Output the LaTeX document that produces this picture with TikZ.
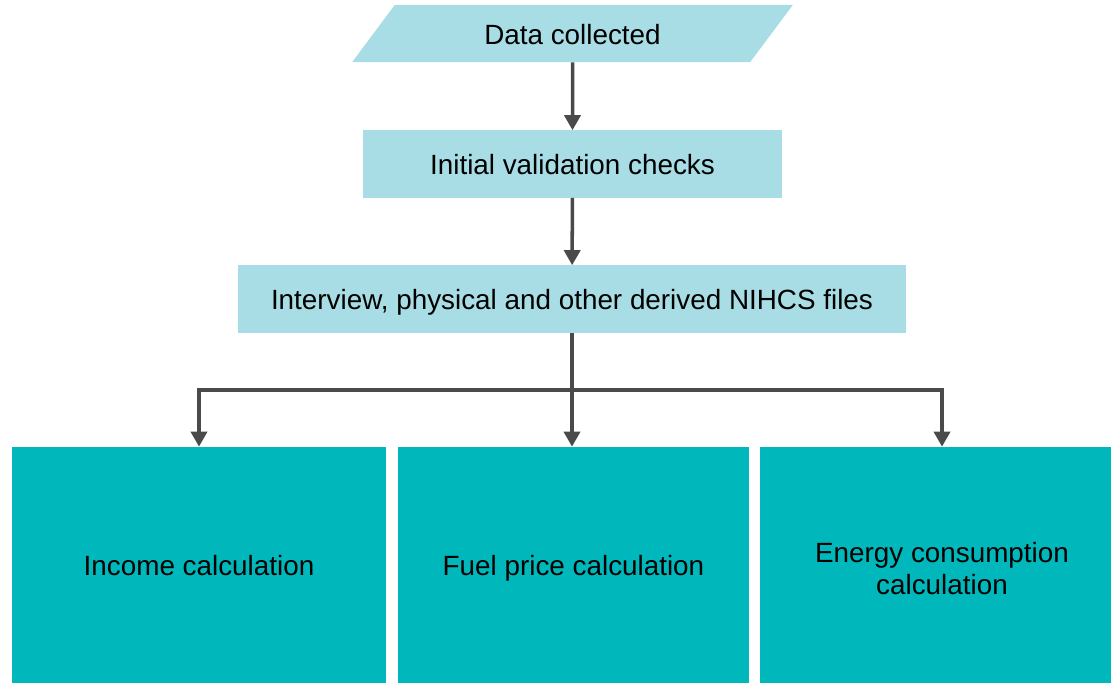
\documentclass[tikz,border=0pt]{standalone}
\usepackage{fontspec}
\setmainfont{Liberation Sans}
\usetikzlibrary{shapes.geometric,arrows.meta}
\definecolor{paleblue}{RGB}{168,221,229}
\definecolor{tealbox}{RGB}{0,184,188}
\definecolor{arrowgray}{RGB}{74,74,74}
\begin{document}
\begin{tikzpicture}[x=0.025cm, y=-0.025cm,
    every node/.style={font=\fontsize{19.8}{22.7}\selectfont, inner sep=0pt},
    oneline/.style={text height=15pt, text depth=0pt},
    inputbox/.style={oneline, trapezium, trapezium left angle=45, trapezium right angle=135,
        trapezium stretches=true, fill=paleblue, minimum width=11.025cm, minimum height=1.425cm},
    stagebox/.style={oneline, rectangle, fill=paleblue, minimum height=1.675cm},
    calcbox/.style={rectangle, fill=tealbox, minimum height=5.9cm},
    flow/.style={-{Triangle[width=0.4cm, length=0.375cm]}, draw=arrowgray, line width=2.5pt}]
    \useasboundingbox (0,0) rectangle (1111,683);
    \clip (0,0) rectangle (1111,683);

    % Input and checks
    \node[inputbox] (data) at (572.5, 33.5) {Data collected};
    \node[stagebox, minimum width=10.475cm] (checks) at (572.5, 164) {Initial validation checks};
    \node[stagebox, minimum width=16.7cm] (files) at (572, 299) {Interview, physical and other derived NIHCS files};

    % Calculations
    \node[calcbox, oneline, minimum width=9.35cm] (income) at (199, 565) {Income calculation};
    \node[calcbox, oneline, minimum width=8.775cm] (fuel) at (573.5, 565) {Fuel price calculation};
    \node[calcbox, align=center, minimum width=9.1cm] (energy) at (942, 565)
        {\rule{0pt}{20pt}Energy consumption\\calculation};

    \draw[flow] (data) -- (checks);
    \draw[flow] (checks) -- (files);

    \coordinate (split) at (572, 390);
    \draw[draw=arrowgray, line width=2.5pt] (files.south) -- (split);
    \draw[flow] (split) -| (income);
    \draw[flow] (split) -- (split |- fuel.north);
    \draw[flow] (split) -| (energy);
\end{tikzpicture}
\end{document}
